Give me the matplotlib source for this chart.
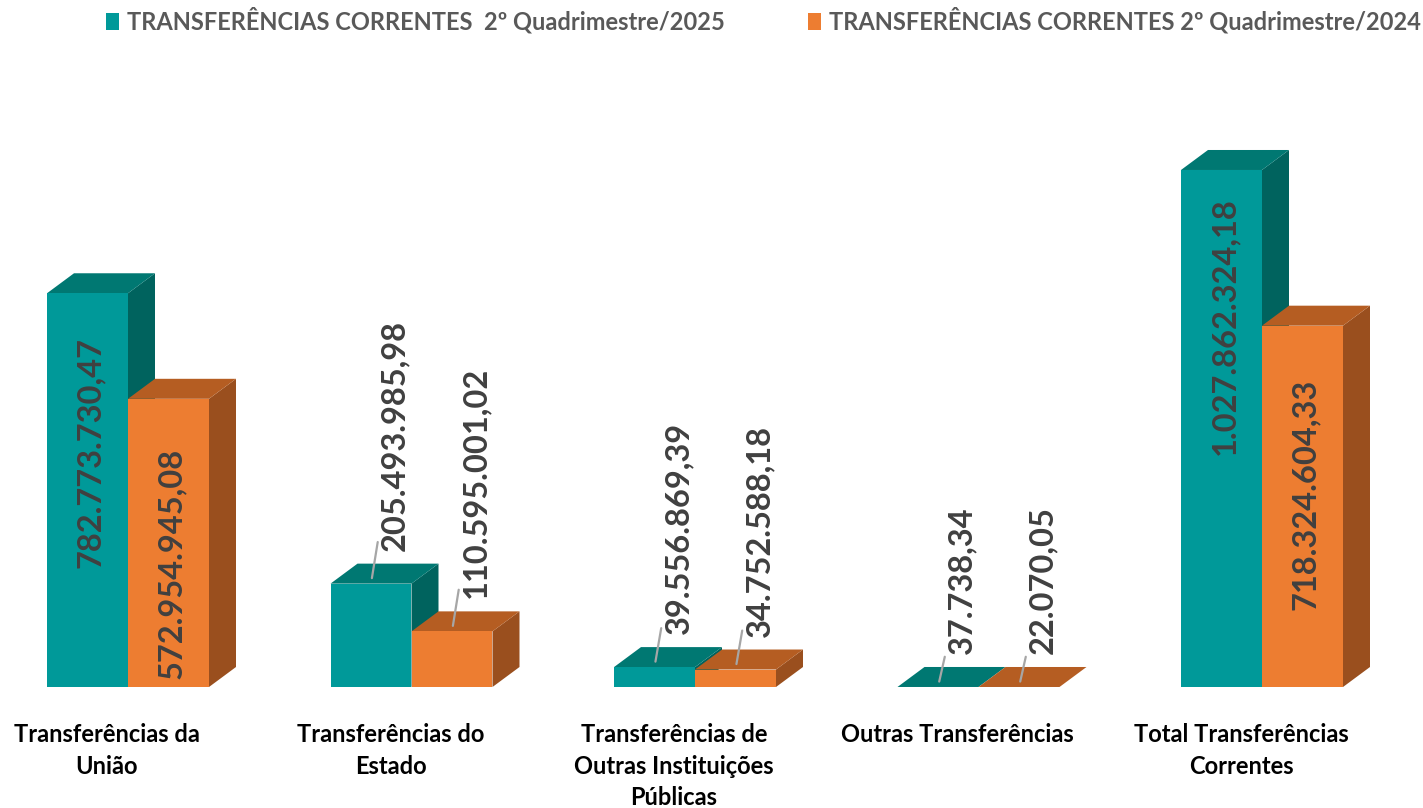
import matplotlib
matplotlib.use("Agg")
import matplotlib.pyplot as plt
from matplotlib.patches import Polygon, Patch
import numpy as np

plt.rcParams['font.family'] = ['Lato', 'DejaVu Sans']

categories = ["Transferências da\nUnião", "Transferências do\nEstado",
              "Transferências de\nOutras Instituições\nPúblicas",
              "Outras Transferências", "Total Transferências\nCorrentes"]
vals_2025 = [782773730.47, 205493985.98, 39556869.39, 37738.34, 1027862324.18]
vals_2024 = [572954945.08, 110595001.02, 34752588.18, 22070.05, 718324604.33]
series_names = ["TRANSFERÊNCIAS CORRENTES  2º Quadrimestre/2025",
                "TRANSFERÊNCIAS CORRENTES 2º Quadrimestre/2024"]

# colours: front, top, side
teal = ("#009999", "#007872", "#00635E")
orange = ("#ED7D31", "#B55D22", "#9A4F1E")


def brl(v):
    # brazilian number format 1.234.567,89
    s = f"{v:,.2f}"
    return s.replace(",", "X").replace(".", ",").replace("X", ".")


W, H = 1423, 808
fig = plt.figure(figsize=(W / 100, H / 100), dpi=100)
base_px = 121
ax = fig.add_axes([0, base_px / H, 1, (H - base_px) / H])

step_px = 283.5
y_scale = 0.503e-6  # pixels per real
ax.set_xlim(-128 / step_px, (W - 128) / step_px)
ax.set_ylim(0, (H - base_px) / y_scale)

w = 81 / step_px
dx = 27 / step_px
dy = 20 / y_scale

x = np.arange(len(categories))


def draw_faces(x0, v, cols, z):
    x1 = x0 + w
    side = [(x1, 0), (x1 + dx, dy), (x1 + dx, v + dy), (x1, v)]
    top = [(x0, v), (x1, v), (x1 + dx, v + dy), (x0 + dx, v + dy)]
    ax.add_patch(Polygon(side, closed=True, facecolor=cols[2], edgecolor="none", zorder=z))
    ax.add_patch(Polygon(top, closed=True, facecolor=cols[1], edgecolor="none", zorder=z))


for i in x:
    draw_faces(i - w, vals_2025[i], teal, 2)
    draw_faces(i, vals_2024[i], orange, 4)

ax.bar(x - w / 2, vals_2025, width=w, color=teal[0], zorder=3)
ax.bar(x + w / 2, vals_2024, width=w, color=orange[0], zorder=5)

# gap (px) between bar top and start of label, for the labels inside the bars
inside_gap = {(0, 0): 44, (0, 1): 49, (4, 0): 27, (4, 1): 53}

for s, vals in enumerate([vals_2025, vals_2024]):
    for i in x:
        xc = i - w / 2 if s == 0 else i + w / 2
        v = vals[i]
        if v > 500e6:
            ax.annotate(brl(v), xy=(xc, v), xytext=(3, -inside_gap[(i, s)]),
                        textcoords="offset pixels", rotation=90, ha="center", va="top",
                        fontsize=23.5, fontweight="bold", color="#404040", zorder=10)
        else:
            ax.annotate(brl(v), xy=(xc, v), xytext=(24, 33),
                        textcoords="offset pixels", rotation=90, ha="center", va="bottom",
                        fontsize=23.5, fontweight="bold", color="#404040", zorder=10,
                        arrowprops=dict(arrowstyle="-", color="#A6A6A6", lw=1.6,
                                        shrinkA=0, shrinkB=4))

ax.set_xticks(x - 21 / step_px, categories, fontsize=17, fontweight="bold",
              color="black", linespacing=1.45)
ax.tick_params(axis="x", length=0, pad=26)
ax.set_yticks([])
for sp in ax.spines.values():
    sp.set_visible(False)

handles = [Patch(facecolor=teal[0]), Patch(facecolor=orange[0])]
fig.legend(handles, series_names, loc="upper left", bbox_to_anchor=(106 / W, 1 - 7 / H),
           ncol=2, frameon=False, borderpad=0, borderaxespad=0,
           handlelength=0.55, handleheight=0.7, handletextpad=0.35, columnspacing=3.5,
           prop=dict(family="Lato", weight="bold", size=17), labelcolor="#595959")

fig.savefig("out.png", dpi=100)
